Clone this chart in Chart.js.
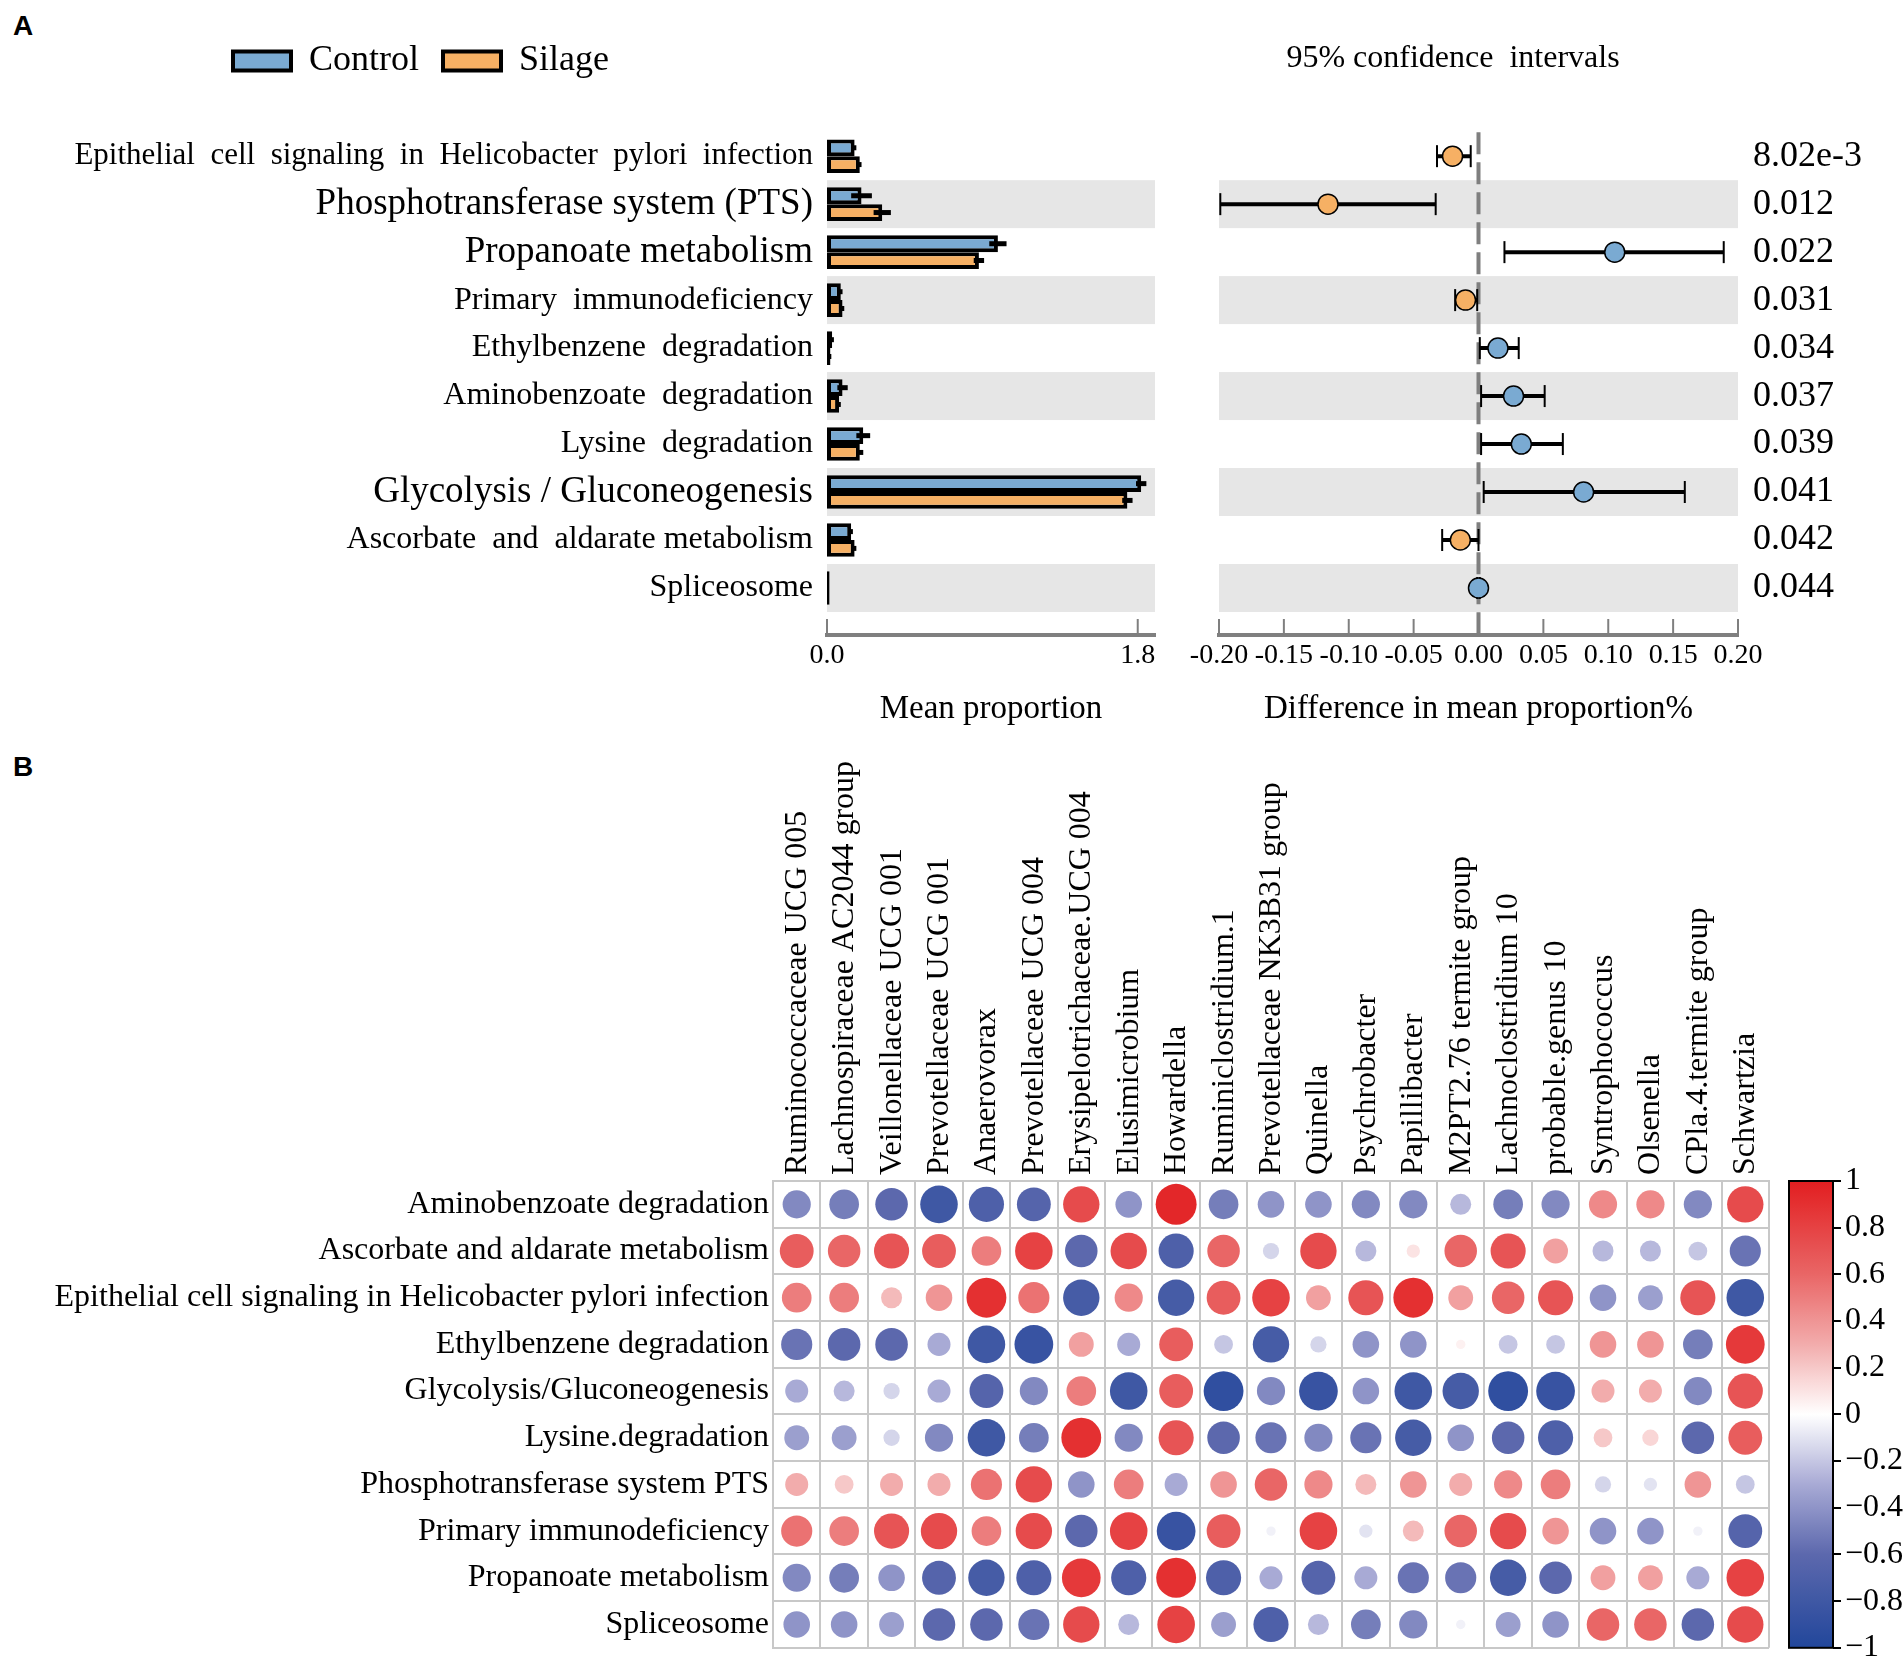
<!DOCTYPE html>
<html>
<head>
<meta charset="utf-8">
<script src="https://cdn.jsdelivr.net/npm/chart.js@4.4.1/dist/chart.umd.min.js"></script>
<style>
  body { margin: 0; background: #fff; width: 1904px; height: 1671px; position: relative; overflow: hidden; }
  canvas { position: absolute; }
  .tag { position: absolute; font: bold 28px 'Liberation Sans', Arial, sans-serif; line-height: 1; }
</style>
</head>
<body>
<div class="tag" style="left:13px;top:12px">A</div>
<div class="tag" style="left:13px;top:753px">B</div>
<canvas id="barChart" width="1165" height="740" style="left:0;top:0"></canvas>
<canvas id="ciChart" width="902" height="740" style="left:1002px;top:0"></canvas>
<canvas id="corrChart" width="1780" height="931" style="left:0;top:740px"></canvas>
<canvas id="scaleChart" width="124" height="521" style="left:1780px;top:1150px"></canvas>
<script>
// ---- panel A data ----
const pathways = [
  'Epithelial  cell  signaling  in  Helicobacter  pylori  infection',
  'Phosphotransferase system (PTS)',
  'Propanoate metabolism',
  'Primary  immunodeficiency',
  'Ethylbenzene  degradation',
  'Aminobenzoate  degradation',
  'Lysine  degradation',
  'Glycolysis / Gluconeogenesis',
  'Ascorbate  and  aldarate metabolism',
  'Spliceosome'
];
const controlMean = [0.16, 0.20, 0.99, 0.08, 0.03, 0.09, 0.21, 1.82, 0.14, 0.015];
const silageMean  = [0.19, 0.32, 0.88, 0.09, 0.02, 0.07, 0.19, 1.74, 0.16, 0.015];
const controlErr  = [0.01, 0.06, 0.05, 0.01, 0.01, 0.03, 0.04, 0.03, 0.01, 0];
const silageErr   = [0.01, 0.05, 0.03, 0.01, 0.005, 0.01, 0.02, 0.03, 0.01, 0];
const diffMean  = [-0.020, -0.116, 0.105, -0.010, 0.015, 0.027, 0.033, 0.081, -0.014, 0.000];
const diffLow   = [-0.032, -0.199, 0.020, -0.018, 0.001, 0.002, 0.002, 0.004, -0.028, -0.001];
const diffHigh  = [-0.006, -0.033, 0.189, -0.001, 0.031, 0.051, 0.065, 0.159, 0.000, 0.001];
const pValues = ['8.02e-3', '0.012', '0.022', '0.031', '0.034', '0.037', '0.039', '0.041', '0.042', '0.044'];
const meanTicks = [0, 1.8];

// ---- panel B data ----
const pathwaysB = [
  'Aminobenzoate degradation',
  'Ascorbate and aldarate metabolism',
  'Epithelial cell signaling in Helicobacter pylori infection',
  'Ethylbenzene degradation',
  'Glycolysis/Gluconeogenesis',
  'Lysine.degradation',
  'Phosphotransferase system PTS',
  'Primary immunodeficiency',
  'Propanoate metabolism',
  'Spliceosome'
];
const genera = [
  'Ruminococcaceae UCG 005', 'Lachnospiraceae AC2044 group', 'Veillonellaceae UCG 001',
  'Prevotellaceae UCG 001', 'Anaerovorax', 'Prevotellaceae UCG 004', 'Erysipelotrichaceae.UCG 004',
  'Elusimicrobium', 'Howardella', 'Ruminiclostridium.1', 'Prevotellaceae NK3B31 group', 'Quinella',
  'Psychrobacter', 'Papillibacter', 'M2PT2.76 termite group', 'Lachnoclostridium 10',
  'probable.genus 10', 'Syntrophococcus', 'Olsenella', 'CPla.4.termite group', 'Schwartzia'
];
const corrAmino  = [-0.45, -0.5, -0.6, -0.8, -0.7, -0.65, 0.75, -0.4, 0.95, -0.5, -0.4, -0.4, -0.45, -0.45, -0.25, -0.5, -0.45, 0.45, 0.45, -0.45, 0.75];
const corrAscorb = [0.65, 0.6, 0.7, 0.65, 0.5, 0.8, -0.6, 0.75, -0.7, 0.6, -0.15, 0.75, -0.25, 0.1, 0.6, 0.7, 0.35, -0.25, -0.25, -0.2, -0.55];
const corrEpith  = [0.5, 0.5, 0.25, 0.4, 0.9, 0.55, -0.75, 0.45, -0.75, 0.65, 0.8, 0.35, 0.7, 0.9, 0.35, 0.6, 0.7, -0.4, -0.35, 0.7, -0.8];
const corrEthyl  = [-0.55, -0.6, -0.6, -0.3, -0.8, -0.85, 0.35, -0.3, 0.65, -0.2, -0.75, -0.15, -0.4, -0.4, 0.05, -0.2, -0.2, 0.4, 0.4, -0.5, 0.85];
const corrGlyco  = [-0.3, -0.25, -0.15, -0.3, -0.65, -0.45, 0.5, -0.8, 0.65, -0.9, -0.45, -0.85, -0.4, -0.8, -0.75, -0.9, -0.85, 0.3, 0.3, -0.45, 0.7];
const corrLysine = [-0.35, -0.35, -0.15, -0.45, -0.8, -0.5, 0.9, -0.45, 0.7, -0.6, -0.55, -0.45, -0.55, -0.75, -0.4, -0.6, -0.7, 0.2, 0.15, -0.6, 0.65];
const corrPTS    = [0.3, 0.2, 0.3, 0.3, 0.55, 0.75, -0.4, 0.5, -0.3, 0.4, 0.6, 0.45, 0.25, 0.4, 0.3, 0.45, 0.5, -0.15, -0.1, 0.4, -0.2];
const corrPrim   = [0.55, 0.5, 0.7, 0.75, 0.5, 0.75, -0.6, 0.8, -0.85, 0.65, -0.05, 0.8, -0.1, 0.25, 0.6, 0.75, 0.4, -0.4, -0.4, -0.05, -0.65];
const corrPropa  = [-0.45, -0.5, -0.4, -0.65, -0.75, -0.7, 0.85, -0.7, 0.9, -0.7, -0.3, -0.65, -0.3, -0.55, -0.55, -0.75, -0.6, 0.35, 0.35, -0.3, 0.8];
const corrSplice = [-0.4, -0.4, -0.35, -0.6, -0.6, -0.55, 0.75, -0.25, 0.8, -0.35, -0.7, -0.25, -0.5, -0.45, -0.05, -0.35, -0.4, 0.6, 0.6, -0.6, 0.75];
const corrRows = [corrAmino, corrAscorb, corrEpith, corrEthyl, corrGlyco, corrLysine, corrPTS, corrPrim, corrPropa, corrSplice];

// ---- styles ----
const serif = "'Liberation Serif', 'Times New Roman', serif";
const blue = '#7aaad2';
const orange = '#f6b064';
const band = '#e6e6e6';
const axisGrey = '#7f7f7f';
const labelSizes = [31, 37, 37, 32, 32, 32, 32, 37, 32, 32];
const rowMin = -1.4, rowMax = 9.98;

const rowTicks = s => { s.ticks = pathways.map((_, i) => ({ value: i })); };

// grey bands behind every second row
const bandPlugin = {
  id: 'bands',
  beforeDatasetsDraw(chart) {
    const { ctx, chartArea } = chart;
    const y = chart.scales.y;
    ctx.save();
    ctx.fillStyle = band;
    pathways.forEach((_, i) => {
      if (i % 2 === 1) {
        const t = y.getPixelForValue(i - 0.5), b = y.getPixelForValue(i + 0.5);
        ctx.fillRect(chartArea.left, t, chartArea.right - chartArea.left, b - t);
      }
    });
    ctx.restore();
  }
};

// upward tick marks on the x axis
const upTicks = {
  id: 'upTicks',
  afterDraw(chart) {
    const { ctx } = chart;
    const x = chart.scales.x;
    ctx.save();
    ctx.strokeStyle = axisGrey;
    ctx.lineWidth = 2;
    x.ticks.forEach(t => {
      const px = x.getPixelForValue(t.value);
      ctx.beginPath();
      ctx.moveTo(px, x.top);
      ctx.lineTo(px, x.top - 16);
      ctx.stroke();
    });
    ctx.restore();
  }
};

const barErrors = {
  id: 'barErrors',
  afterDatasetsDraw(chart) {
    const { ctx } = chart;
    const x = chart.scales.x;
    const sets = [[controlMean, controlErr], [silageMean, silageErr]];
    ctx.save();
    ctx.strokeStyle = '#000';
    ctx.lineWidth = 5;
    sets.forEach(([m, e], d) => {
      chart.getDatasetMeta(d).data.forEach((el, i) => {
        if (!e[i]) return;
        ctx.beginPath();
        ctx.moveTo(x.getPixelForValue(m[i] - e[i]), el.y);
        ctx.lineTo(x.getPixelForValue(m[i] + e[i]), el.y);
        ctx.stroke();
      });
    });
    ctx.restore();
  }
};

// legend sits further right than the label column starts
const legendShift = {
  id: 'legendShift',
  afterLayout(chart) {
    chart.legend.left += 209;
    chart.legend.right += 209;
  }
};

new Chart(document.getElementById('barChart'), {
  type: 'bar',
  data: {
    datasets: [
      { label: 'Control', data: controlMean.map((v, i) => ({ x: v, y: i })), backgroundColor: blue },
      { label: 'Silage', data: silageMean.map((v, i) => ({ x: v, y: i })), backgroundColor: orange }
    ]
  },
  options: {
    indexAxis: 'y',
    responsive: false,
    animation: false,
    events: [],
    datasets: { bar: { borderColor: '#000', borderWidth: 4, borderSkipped: false, categoryPercentage: 0.7, barPercentage: 1 } },
    layout: { padding: { left: 0, top: 19, right: 10, bottom: 0 } },
    plugins: {
      tooltip: { enabled: false },
      legend: {
        position: 'top', align: 'start',
        labels: { boxWidth: 58, boxHeight: 19, padding: 24, color: '#000', font: { family: serif, size: 36 } }
      }
    },
    scales: {
      x: {
        type: 'linear', min: 0, max: 1.9,
        afterBuildTicks: s => { s.ticks = meanTicks.map(v => ({ value: v })); },
        ticks: { callback: v => v.toFixed(1), color: '#000', font: { family: serif, size: 28 }, padding: 4, maxRotation: 0, autoSkip: false },
        grid: { display: false, drawTicks: false },
        border: { display: true, color: axisGrey, width: 4 },
        title: { display: true, text: 'Mean proportion', color: '#000', font: { family: serif, size: 33 }, padding: { top: 0, bottom: 11 } },
        afterFit: s => { s.height = 105; }
      },
      y: {
        type: 'linear', reverse: true, offset: false, min: rowMin, max: rowMax,
        afterBuildTicks: rowTicks,
        ticks: {
          callback: v => pathways[v], color: '#000', padding: 14, autoSkip: false,
          font: c => ({ family: serif, size: labelSizes[c.index] || 32 })
        },
        grid: { display: false, drawTicks: false },
        border: { display: false },
        afterFit: s => { s.width = 827; }
      }
    }
  },
  plugins: [legendShift, bandPlugin, barErrors, upTicks]
});

// dashed zero line and confidence intervals
const ciPlugin = {
  id: 'ci',
  beforeDatasetsDraw(chart) {
    const { ctx } = chart;
    const x = chart.scales.x, y = chart.scales.y;
    const x0 = x.getPixelForValue(0);
    ctx.save();
    ctx.strokeStyle = axisGrey;
    ctx.lineWidth = 4;
    ctx.setLineDash([22, 8]);
    ctx.beginPath();
    ctx.moveTo(x0, y.getPixelForValue(-0.5));
    ctx.lineTo(x0, chart.chartArea.bottom);
    ctx.stroke();
    ctx.setLineDash([]);
    ctx.strokeStyle = '#000';
    diffMean.forEach((_, i) => {
      const py = y.getPixelForValue(i);
      const l = x.getPixelForValue(diffLow[i]), r = x.getPixelForValue(diffHigh[i]);
      ctx.lineWidth = 4;
      ctx.beginPath();
      ctx.moveTo(l, py); ctx.lineTo(r, py);
      ctx.stroke();
      ctx.lineWidth = 2;
      [l, r].forEach(px => {
        ctx.beginPath();
        ctx.moveTo(px, py - 11); ctx.lineTo(px, py + 11);
        ctx.stroke();
      });
    });
    ctx.restore();
  }
};

new Chart(document.getElementById('ciChart'), {
  type: 'scatter',
  data: {
    datasets: [{
      data: diffMean.map((v, i) => ({ x: v, y: i })),
      pointRadius: 10,
      pointBorderColor: '#000',
      pointBorderWidth: 1.5,
      pointBackgroundColor: diffMean.map(v => v >= 0 ? blue : orange)
    }]
  },
  options: {
    responsive: false,
    animation: false,
    events: [],
    layout: { padding: 0 },
    plugins: {
      tooltip: { enabled: false },
      legend: { display: false },
      title: { display: true, text: '95% confidence  intervals', color: '#000', font: { family: serif, size: 32, weight: 'normal' }, padding: { top: 39, bottom: 11.6 } }
    },
    scales: {
      x: {
        type: 'linear', min: -0.2, max: 0.2,
        ticks: { stepSize: 0.05, callback: v => v.toFixed(2), color: '#000', font: { family: serif, size: 28 }, padding: 4, maxRotation: 0, autoSkip: false },
        grid: { display: false, drawTicks: false },
        border: { display: true, color: axisGrey, width: 4 },
        title: { display: true, text: 'Difference in mean proportion%', color: '#000', font: { family: serif, size: 33 }, padding: { top: 0, bottom: 11 } },
        afterFit: s => { s.height = 105; }
      },
      y: {
        type: 'linear', reverse: true, min: rowMin, max: rowMax,
        ticks: { display: false },
        grid: { display: false, drawTicks: false },
        border: { display: false },
        afterFit: s => { s.width = 217; }
      },
      p: {
        type: 'linear', position: 'right', reverse: true, min: rowMin, max: rowMax,
        afterBuildTicks: rowTicks,
        ticks: { callback: v => pValues[v], color: '#000', font: { family: serif, size: 36 }, padding: 15, autoSkip: false },
        grid: { display: false, drawTicks: false },
        border: { display: false },
        afterFit: s => { s.width = 166; }
      }
    }
  },
  plugins: [bandPlugin, ciPlugin, upTicks]
});

// ---- panel B ----
const posStops = [[0, [255, 255, 255]], [0.3, [242, 172, 172]], [0.6, [233, 102, 102]], [1, [226, 30, 32]]];
const negStops = [[0, [255, 255, 255]], [0.3, [168, 170, 213]], [0.6, [92, 104, 173]], [1, [34, 71, 155]]];
function corrColor(v) {
  const stops = v >= 0 ? posStops : negStops;
  const a = Math.min(1, Math.abs(v));
  for (let k = 1; k < stops.length; k++) {
    if (a <= stops[k][0]) {
      const [p0, c0] = stops[k - 1], [p1, c1] = stops[k];
      const t = (a - p0) / (p1 - p0);
      const c = c0.map((ch, n) => Math.round(ch + (c1[n] - ch) * t));
      return 'rgb(' + c.join(',') + ')';
    }
  }
  return 'rgb(' + stops[stops.length - 1][1].join(',') + ')';
}

const cells = [];
corrRows.forEach((row, i) => row.forEach((v, j) => cells.push({ x: genera[j], y: pathwaysB[i], v })));

const cellGrid = '#c8c8c8';
new Chart(document.getElementById('corrChart'), {
  type: 'scatter',
  data: {
    datasets: [{
      data: cells,
      pointBackgroundColor: c => c.raw ? corrColor(c.raw.v) : '#fff',
      pointBorderWidth: 0,
      pointRadius: c => {
        const a = c.chart.chartArea;
        if (!a || !c.raw) return 0;
        const cw = (a.right - a.left) / genera.length, ch = (a.bottom - a.top) / pathwaysB.length;
        return Math.sqrt(Math.abs(c.raw.v)) * Math.min(cw, ch) / 2 * 0.9;
      }
    }]
  },
  options: {
    responsive: false,
    animation: false,
    events: [],
    layout: { padding: { left: 0, top: 0, right: 11, bottom: 13 } },
    plugins: { legend: { display: false }, tooltip: { enabled: false } },
    scales: {
      x: {
        type: 'category', labels: genera, position: 'top', offset: true,
        grid: { offset: true, color: cellGrid, lineWidth: 2, drawTicks: false },
        border: { color: cellGrid, width: 2 },
        ticks: { minRotation: 90, maxRotation: 90, autoSkip: false, padding: 6, labelOffset: 39, color: '#000', font: { family: serif, size: 32 } },
        afterFit: s => { s.height = 441; }
      },
      y: {
        type: 'category', labels: pathwaysB, offset: true,
        grid: { offset: true, color: cellGrid, lineWidth: 2, drawTicks: false },
        border: { color: cellGrid, width: 2 },
        ticks: { autoSkip: false, padding: 4, color: '#000', font: { family: serif, size: 32 } },
        afterFit: s => { s.width = 773; }
      }
    }
  }
});

// colour key
const keyFill = {
  id: 'keyFill',
  beforeDatasetsDraw(chart) {
    const { ctx, chartArea: a } = chart;
    const y = chart.scales.y;
    const g = ctx.createLinearGradient(0, y.getPixelForValue(1), 0, y.getPixelForValue(-1));
    for (let k = 0; k <= 40; k++) {
      const v = 1 - k / 20;
      g.addColorStop(k / 40, corrColor(v));
    }
    ctx.save();
    ctx.fillStyle = g;
    ctx.fillRect(a.left, a.top, a.right - a.left, a.bottom - a.top);
    ctx.strokeStyle = '#000';
    ctx.lineWidth = 2;
    ctx.strokeRect(a.left, a.top, a.right - a.left, a.bottom - a.top);
    ctx.restore();
  }
};

new Chart(document.getElementById('scaleChart'), {
  type: 'scatter',
  data: { datasets: [{ data: [] }] },
  options: {
    responsive: false,
    animation: false,
    events: [],
    layout: { padding: { left: 9, top: 31, right: 0, bottom: 13 } },
    plugins: { legend: { display: false }, tooltip: { enabled: false } },
    scales: {
      x: { type: 'linear', min: 0, max: 1, display: false },
      y: {
        type: 'linear', position: 'right', min: -1, max: 1,
        ticks: {
          stepSize: 0.2, color: '#000', padding: 4, font: { family: serif, size: 32 },
          callback: v => { const r = Math.round(v * 10) / 10; return r === 0 ? '0' : (r < 0 ? '\u2212' : '') + Math.abs(r); }
        },
        grid: { drawOnChartArea: false, drawTicks: true, tickLength: 8, color: '#000', lineWidth: 2 },
        border: { display: false },
        afterFit: s => { s.width = 71; }
      }
    }
  },
  plugins: [keyFill]
});
</script>
</body>
</html>
